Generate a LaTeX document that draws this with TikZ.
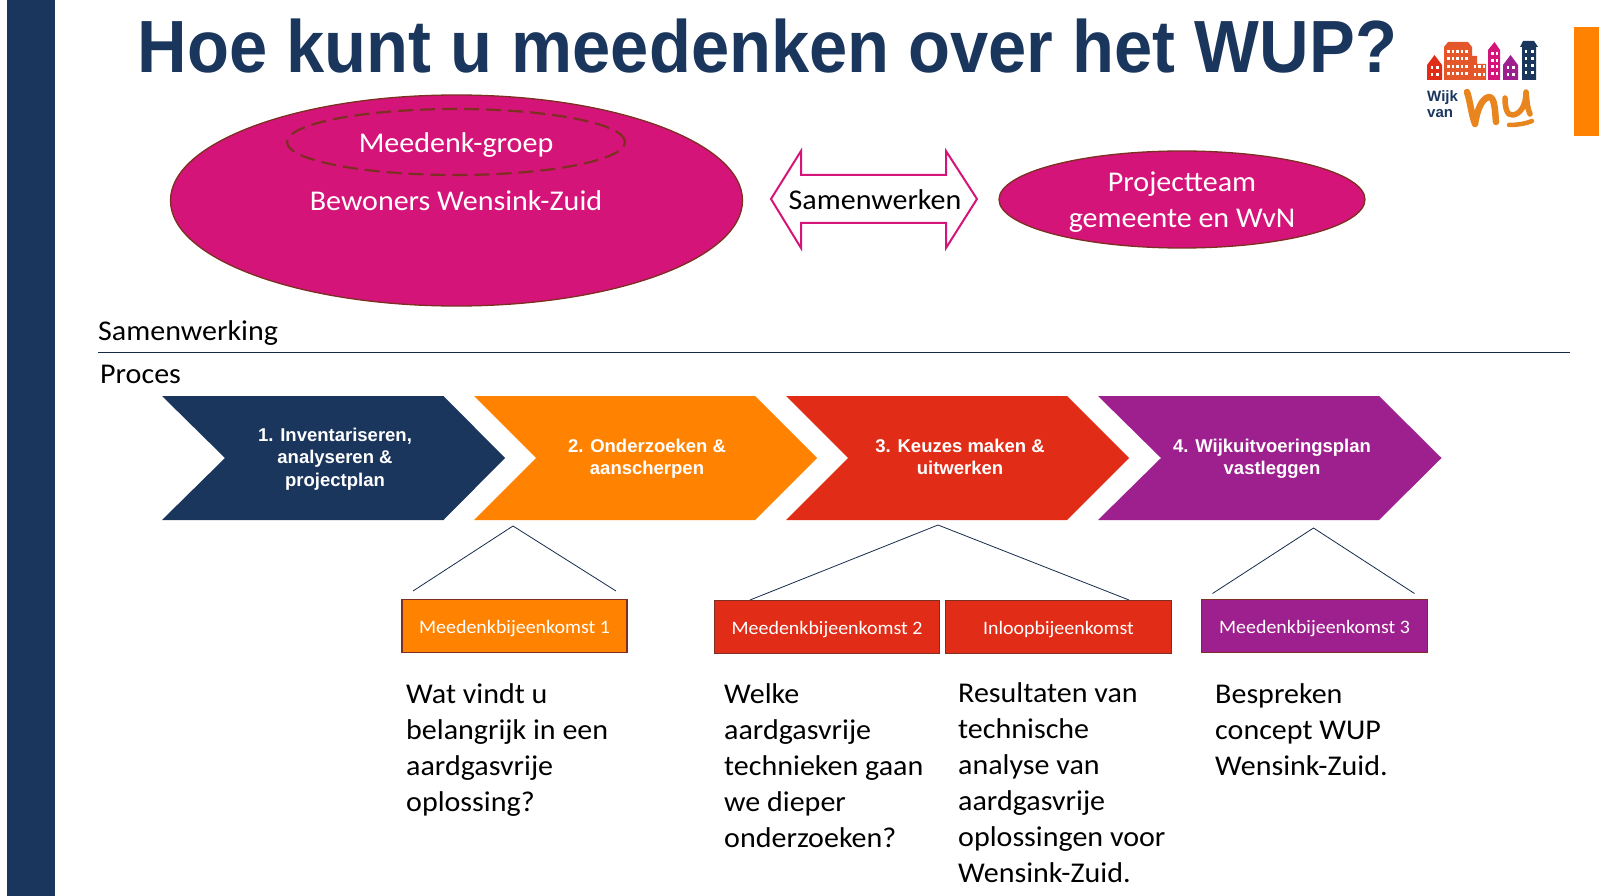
\documentclass[tikz,border=0pt]{standalone}
\usepackage{graphicx}
\usepackage{fontspec}
\setmainfont{Carlito}[FakeStretch=1.05]
\newfontfamily\headfont{Liberation Sans}
\definecolor{navy}{HTML}{1B365D}
\definecolor{orng}{HTML}{FF8200}
\definecolor{redd}{HTML}{E12D17}
\definecolor{purp}{HTML}{9E1F8E}
\definecolor{mag}{HTML}{D5147A}
\definecolor{brn}{HTML}{7D2F22}
\definecolor{logoor}{HTML}{E9851F}
\definecolor{logobr}{HTML}{E4572A}
\tikzset{
  x=1pt,y=-1pt,
  blob/.style={ellipse,draw=brn,line width=1.3pt,fill=mag,inner sep=0,minimum width=#1},
  lab/.style={inner sep=0,align=center,text=white,font=\fontsize{28.6}{36}\selectfont},
  plain/.style={inner sep=0,anchor=north west,align=left,text=black,font=\fontsize{28.6}{36}\selectfont},
  heading/.style={inner sep=0,anchor=west,text=black,font=\fontsize{28.6}{36}\selectfont},
  chevtext/.style={inner sep=0,align=center,text=white,font=\headfont\bfseries\fontsize{18.5}{22.4}\selectfont},
  meet/.style={draw=brn,line width=1.2pt,minimum width=225pt,minimum height=53.5pt,inner sep=0,text=white,text height=19pt,text depth=4pt,font=\fontsize{19}{24}\selectfont},
  link/.style={draw=navy!80!black,line width=0.8pt},
  win/.style={fill=white,draw=none}
}
\usetikzlibrary{shapes.geometric}
\newcommand{\chev}[5]{\fill[#5] (#1,396) -- (#2,396) -- (#3,458) -- (#2,520) -- (#1,520) -- (#4,458) -- cycle;}
\newcommand{\wins}[6]{\foreach \wx in {#1,#2,...,#3}{\foreach \wy in {#4,#5,...,#6}{\fill[win] (\wx,\wy) rectangle +(2.6,2.6);}}}
\begin{document}
\begin{tikzpicture}
\useasboundingbox (0,0) rectangle (1599,896);
\fill[white] (0,0) rectangle (1599,896);
\fill[navy] (7,0) rectangle (55,896);
\fill[orng] (1574,27) rectangle (1599,136);
\node[inner sep=0,text=navy,font=\headfont\bfseries\fontsize{74}{80}\selectfont] (title) at (767.5,46) {\scalebox{0.928}[1]{Hoe kunt u meedenken over het WUP?}};

% top ellipses
\node[blob=572pt,minimum height=211pt] (big) at (456.5,200.5) {};
\node[ellipse,draw=brn,dash pattern=on 15pt off 7pt,line width=2.2pt,minimum width=338pt,minimum height=66pt,inner sep=0] (dash) at (456,142) {};
\node[lab] (t1) at (456,145) {Meedenk-groep};
\node[lab] (t2) at (456,201) {Bewoners Wensink-Zuid};
\node[blob=366pt,minimum height=97pt,align=center] (team) at (1182,199.5) {};
\node[lab] (t3) at (1182,202.5) {Projectteam\\gemeente en WvN};
\draw[mag,line width=2pt,fill=white,line join=miter] (771,199) -- (801,151) -- (801,175) -- (946,175) -- (946,151) -- (977,199) -- (946,248) -- (946,223) -- (801,223) -- (801,248) -- cycle;
\node[inner sep=0,text=black,font=\fontsize{28.6}{36}\selectfont] (sam) at (875,200) {Samenwerken};

% section labels
\node[heading] (s1) at (98,333) {Samenwerking};
\coordinate (ruleA) at (98,352);
\coordinate (ruleB) at (1570,352);
\draw[navy!80!black,line width=0.8pt] (ruleA) -- (ruleB);
\node[heading] (s2) at (100,374) {Proces};

% chevrons
\chev{162}{443.5}{505}{225}{navy}
\chev{474}{755}{817}{536}{orng}
\chev{786}{1067}{1129}{848}{redd}
\chev{1098}{1379}{1441.5}{1161}{purp}
\node[chevtext] (c1) at (335,459) {1. Inventariseren,\\analyseren \&\\projectplan};
\node[chevtext] (c2) at (647,459) {2. Onderzoeken \&\\aanscherpen};
\node[chevtext] (c3) at (960,457) {3. Keuzes maken \&\\uitwerken};
\node[chevtext] (c4) at (1272,459) {4. Wijkuitvoeringsplan\\vastleggen};

% connectors
\coordinate (a1) at (513,526); \coordinate (a1l) at (413,591); \coordinate (a1r) at (616,591);
\coordinate (a2) at (938,525); \coordinate (a2l) at (750,600); \coordinate (a2r) at (1129,600);
\coordinate (a3) at (1313.5,528); \coordinate (a3l) at (1212.5,593.5); \coordinate (a3r) at (1414.5,593.5);
\draw[link] (a1l) -- (a1) -- (a1r);
\draw[link] (a2l) -- (a2) -- (a2r);
\draw[link] (a3l) -- (a3) -- (a3r);

% meetings
\node[meet,fill=orng] (m1) at (514.5,626) {Meedenkbijeenkomst 1};
\node[meet,fill=redd] (m2) at (827,627) {Meedenkbijeenkomst 2};
\node[meet,fill=redd,minimum width=226pt] (m3) at (1058.5,627) {Inloopbijeenkomst};
\node[meet,fill=purp,minimum width=226pt] (m4) at (1314.5,626) {Meedenkbijeenkomst 3};

\node[plain] (d1) at (406,683) {Wat vindt u\\belangrijk in een\\aardgasvrije\\oplossing?};
\node[plain] (d2) at (724,683) {Welke\\aardgasvrije\\technieken gaan\\we dieper\\onderzoeken?};
\node[plain] (d3) at (958,682.5) {Resultaten van\\technische\\analyse van\\aardgasvrije\\oplossingen voor\\Wensink-Zuid.};
\node[plain] (d4) at (1215,683) {Bespreken\\concept WUP\\Wensink-Zuid.};

% logo
\fill[redd] (1427,65) -- (1434.5,55) -- (1442,65) -- (1442,80) -- (1427,80) -- cycle;
\wins{1430.5}{1436}{1436}{66.5}{73}{73}
\fill[logobr] (1444,80) -- (1444,47) -- (1448,42) -- (1468,42) -- (1472,47) -- (1472,56) -- (1477,56) -- (1477,64) -- (1486,64) -- (1486,80) -- cycle;
\wins{1447}{1451.5}{1469}{50}{57.5}{73}
\wins{1473.5}{1478}{1482.5}{65}{73}{73}
\fill[mag] (1488,80) -- (1488,50) -- (1494.5,42) -- (1500,50) -- (1500,80) -- cycle;
\wins{1491}{1495.5}{1495.5}{52.5}{59}{72}
\fill[purp] (1503,65) -- (1510.5,55) -- (1518,65) -- (1518,80) -- (1503,80) -- cycle;
\wins{1506.5}{1512}{1512}{66.5}{73}{73}
\fill[navy] (1520,47) -- (1523,41) -- (1534,41) -- (1538,47) -- (1536,47) -- (1536,80) -- (1522,80) -- (1522,47) -- cycle;
\wins{1524.5}{1531}{1531}{50}{57}{71}
\node[inner sep=0,anchor=west,text=navy,align=left,font=\headfont\bfseries\fontsize{15}{16.5}\selectfont] (wv) at (1427,104) {Wijk\\van};
\draw[logoor,line width=6.5pt,line cap=round,line join=round] (1467,92) .. controls (1470,100) and (1471,113) .. (1475,124) .. controls (1477,110) and (1482,98) .. (1489,97) .. controls (1495,97) and (1495,112) .. (1496,122);
\draw[logoor,line width=5.5pt,line cap=round,line join=round] (1505,98) .. controls (1505,108) and (1507,116) .. (1513,115) .. controls (1520,114) and (1526,106) .. (1526,92) .. controls (1527,100) and (1527,108) .. (1530,114);
\draw[logoor,line width=4.5pt,line cap=round] (1509,125) .. controls (1516,125) and (1525,124) .. (1532,121);
\end{tikzpicture}
\end{document}
